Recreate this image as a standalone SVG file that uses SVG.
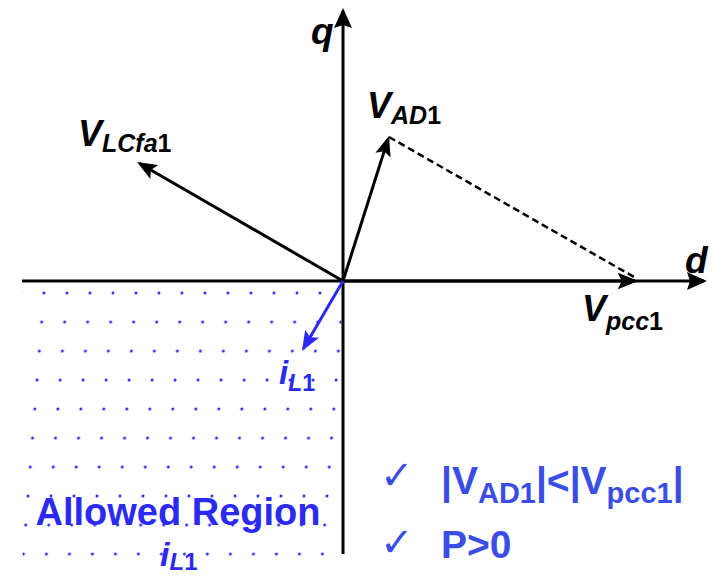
<svg xmlns="http://www.w3.org/2000/svg" width="713" height="577" viewBox="0 0 713 577">
  <style>
    .ax { stroke: #000; stroke-width: 3; fill: none; }
    .vec { stroke: #000; stroke-width: 3; fill: none; marker-end: url(#ah); }
    .bvec { stroke: #2a2af2; stroke-width: 3; fill: none; marker-end: url(#ahb); }
    .lbl { font-family: "Liberation Sans", Arial, sans-serif; font-weight: bold; font-style: italic; fill: #000; }
    .blbl { font-family: "Liberation Sans", Arial, sans-serif; font-weight: bold; font-style: italic; fill: #2a2af2; }
    .cond { font-family: "Liberation Sans", Arial, sans-serif; font-weight: bold; fill: #3a4ee6; }
    .chk { font-family: "DejaVu Sans", sans-serif; fill: #3a4ee6; }
  </style>
  <defs>
    <marker id="ah" viewBox="0 0 20 16" refX="17" refY="8" markerWidth="20" markerHeight="16" markerUnits="userSpaceOnUse" orient="auto">
      <path d="M0,0 L20,8 L0,16 L4,8 z" fill="#000"/>
    </marker>
    <marker id="ahb" viewBox="0 0 20 16" refX="17" refY="8" markerWidth="20" markerHeight="16" markerUnits="userSpaceOnUse" orient="auto">
      <path d="M0,0 L20,8 L0,16 L4,8 z" fill="#2a2af2"/>
    </marker>
    <marker id="axh" viewBox="0 0 20 18" refX="17" refY="9" markerWidth="20" markerHeight="18" markerUnits="userSpaceOnUse" orient="auto">
      <path d="M0,0 L20,9 L0,18 L3,9 z" fill="#000"/>
    </marker>
    <pattern id="dots" patternUnits="userSpaceOnUse" width="23" height="29" patternTransform="skewX(-4.5)">
      <circle cx="21" cy="3" r="1.5" fill="#2a2af2"/>
    </pattern>
  </defs>

  <g id="region">
    <rect x="22.5" y="286" width="319" height="272" fill="url(#dots)"/>
  </g>

  <g id="axes">
    <line class="ax" x1="22" y1="281" x2="704" y2="281" marker-end="url(#axh)"/>
    <line class="ax" x1="343" y1="554" x2="343" y2="11" marker-end="url(#axh)"/>
  </g>

  <g id="connectors">
    <line class="vec" x1="343" y1="281" x2="139.6" y2="163.5"/>
    <line class="vec" x1="343" y1="281" x2="388.1" y2="138.9"/>
    <line class="vec" x1="343" y1="281" x2="635" y2="281"/>
    <path d="M618,273 L638,281 L618,289 L622,281 z" fill="#000"/>
    <line class="bvec" x1="343" y1="281" x2="303.5" y2="348.4"/>
    <line x1="389" y1="137" x2="634" y2="277" stroke="#000" stroke-width="2.5" stroke-dasharray="7 4"/>
  </g>

  <g id="label-q"><text class="lbl" x="311" y="44" font-size="37">q</text></g>
  <g id="label-d"><text class="lbl" x="685" y="273" font-size="37">d</text></g>
  <g id="label-vlcfa1"><text class="lbl" x="78" y="146" font-size="36">V<tspan font-size="25" dy="6">LCfa</tspan><tspan font-size="25" font-style="normal">1</tspan></text></g>
  <g id="label-vad1"><text class="lbl" x="367" y="118" font-size="36">V<tspan font-size="25" dy="6">AD</tspan><tspan font-size="25" font-style="normal">1</tspan></text></g>
  <g id="label-vpcc1"><text class="lbl" x="582" y="321" font-size="36">V<tspan font-size="25" dy="9">pcc</tspan><tspan font-size="25" font-style="normal">1</tspan></text></g>
  <g id="label-il1"><text class="blbl" x="279" y="384" font-size="33">i<tspan font-size="23" dy="7">L</tspan><tspan font-size="23" font-style="normal">1</tspan></text></g>

  <g id="allowed-region">
    <text x="178" y="525" font-size="38" text-anchor="middle" font-family="Liberation Sans, Arial, sans-serif" font-weight="bold" fill="#2a2af2">Allowed Region</text>
    <text class="blbl" x="160" y="566" font-size="34">i<tspan font-size="24" dy="4">L</tspan><tspan font-size="24" font-style="normal">1</tspan></text>
  </g>

  <g id="conditions">
    <text class="chk" x="380" y="489" font-size="40">✓</text>
    <text class="cond" x="441" y="494" font-size="39">|V<tspan font-size="29" dy="9">AD1</tspan><tspan dy="-9">|&lt;|V</tspan><tspan font-size="29" dy="9">pcc1</tspan><tspan dy="-9">|</tspan></text>
    <text class="chk" x="380" y="556" font-size="40">✓</text>
    <text class="cond" x="441" y="558" font-size="39">P&gt;0</text>
  </g>
</svg>
